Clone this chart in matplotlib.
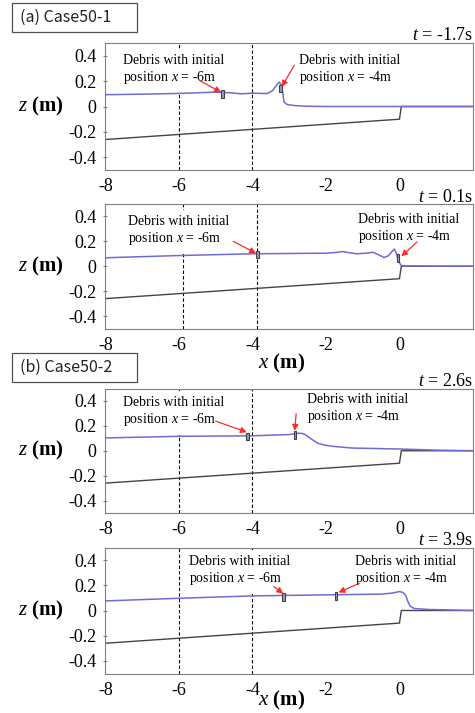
import matplotlib
matplotlib.use("Agg")
from matplotlib import pyplot as plt
from matplotlib.patches import Rectangle

plt.rcParams['font.family'] = ['Liberation Serif', 'DejaVu Serif']
plt.rcParams['mathtext.fontset'] = 'custom'
plt.rcParams['mathtext.rm'] = 'Liberation Serif'
plt.rcParams['mathtext.it'] = 'Liberation Serif:italic'
plt.rcParams['mathtext.bf'] = 'Liberation Serif:bold'

# seabed profile (same in all snapshots)
bed_x = [-8, 0, 0.05, 2]
bed_z = [-0.26, -0.1, 0.0, 0.0]

# free surface, one list per snapshot
times = ['-1.7', '0.1', '2.6', '3.9']
wave_x = [
    [-8, -7, -6, -5.5, -5, -4.6, -4.3, -4.0, -3.6, -3.45, -3.35, -3.27, -3.21, -3.17, -3.14, -3.05, -2.8, -2.5, -2, 0, 2],
    [-8, -6, -4, -2, -1.75, -1.55, -1.35, -1.15, -0.9, -0.72, -0.55, -0.42, -0.3, -0.2, -0.14, -0.08, -0.03, 0.03, 0.08, 1, 2],
    [-8, -6, -4, -3, -2.76, -2.67, -2.58, -2.4, -2.22, -2.03, -1.8, -1.3, -0.5, 0, 1, 2],
    [-8, -6, -4, -2, -0.5, -0.2, 0.0, 0.1, 0.17, 0.23, 0.29, 0.4, 0.8, 2],
]
wave_z = [
    [0.093, 0.097, 0.103, 0.108, 0.113, 0.108, 0.1, 0.105, 0.102, 0.125, 0.165, 0.192, 0.17, 0.1, 0.035, 0.015, 0.006, 0.002, 0.0, 0.0, 0.0],
    [0.068, 0.086, 0.1, 0.105, 0.11, 0.118, 0.108, 0.1, 0.105, 0.112, 0.09, 0.07, 0.085, 0.12, 0.138, 0.1, 0.05, 0.012, 0.003, 0.001, 0.0],
    [0.103, 0.116, 0.12, 0.13, 0.14, 0.14, 0.133, 0.095, 0.06, 0.045, 0.035, 0.022, 0.017, 0.014, 0.005, 0.0],
    [0.076, 0.097, 0.116, 0.124, 0.13, 0.138, 0.15, 0.143, 0.12, 0.07, 0.035, 0.016, 0.008, 0.0],
]

# debris centres (x, z): initial -6m, initial -4m
debris = [
    [(-4.82, 0.098), (-3.23, 0.142)],
    [(-3.86, 0.095), (-0.04, 0.065)],
    [(-4.13, 0.115), (-2.84, 0.126)],
    [(-3.16, 0.108), (-1.73, 0.113)],
]
# arrows: (start, end)
arrows = [
    [((-5.41, 0.2), (-4.85, 0.112)), ((-2.86, 0.325), (-3.2, 0.155))],
    [((-4.52, 0.2), (-3.9, 0.105)), ((0.48, 0.195), (0.05, 0.08))],
    [((-5.0, 0.238), (-4.15, 0.149)), ((-2.81, 0.297), (-2.85, 0.16))],
    [((-3.42, 0.19), (-3.16, 0.135)), ((-1.09, 0.216), (-1.66, 0.143))],
]
# label anchors (left x, baseline z of second line)
label_pos = [
    [(-7.53, 0.2), (-2.73, 0.2)],
    [(-7.37, 0.195), (-1.12, 0.21)],
    [(-7.53, 0.22), (-2.51, 0.243)],
    [(-5.73, 0.224), (-1.22, 0.224)],
]
label_txt = ['-6m', '-4m']
dash_x = [[-6, -4], [-5.88, -3.87], [-6, -4], [-6, -4]]

xticks = [-8, -6, -4, -2, 0]
xticklabels = ['-8', '-6', '-4', '-2', '0']
yticks = [-0.4, -0.2, 0, 0.2, 0.4]
yticklabels = ['-0.4', '-0.2', '0', '0.2', '0.4']

W, H = 475, 713
fig = plt.figure(figsize=(W / 100, H / 100), dpi=100)

# axes boxes in pixels: (top, bottom)
boxes = [(43, 170), (204, 328.5), (388.5, 513), (547.5, 673.5)]
left_px, right_px = 105.3, 473

wave_col = '#6c6cd4'
bed_col = '#454545'

for i, (top, bot) in enumerate(boxes):
    ax = fig.add_axes([left_px / W, (H - bot) / H, (right_px - left_px) / W, (bot - top) / H])
    ax.set_xlim(-8, 2)
    ax.set_ylim(-0.5, 0.5)
    for xd in dash_x[i]:
        ax.axvline(xd, color='black', ls=(0, (3, 2)), lw=0.8, zorder=1)
    ax.plot(bed_x, bed_z, color=bed_col, lw=1.0, zorder=2)
    ax.plot(wave_x[i], wave_z[i], color=wave_col, lw=1.1, zorder=3)
    for (dx, dz) in debris[i]:
        ax.add_patch(Rectangle((dx - 0.035, dz - 0.03), 0.07, 0.06, facecolor='#9a9aa8',
                               edgecolor='#404050', lw=0.8, zorder=4))
    for j in range(2):
        lx, lz = label_pos[i][j]
        ax.text(lx, lz, 'Debris with initial\nposition $x$ = ' + label_txt[j],
                fontsize=10, ha='left', va='baseline', linespacing=1.2, zorder=1.5,
                bbox=dict(boxstyle='square,pad=0.5', facecolor='white', edgecolor='none'))
        (sx, sz), (ex, ez) = arrows[i][j]
        ax.annotate('', xy=(ex, ez), xytext=(sx, sz), zorder=6,
                    arrowprops=dict(arrowstyle='-|>', color='#ff2a2a', lw=0.9,
                                    mutation_scale=9, shrinkA=0, shrinkB=0))
    ax.set_xticks(xticks)
    ax.set_xticklabels(xticklabels)
    ax.set_yticks(yticks)
    ax.set_yticklabels(yticklabels)
    ax.tick_params(axis='x', length=0, pad=6, labelsize=13)
    ax.tick_params(axis='y', direction='inout', length=3, pad=5, labelsize=13, color='#808080')
    for sp in ax.spines.values():
        sp.set_color('#808080')
        sp.set_linewidth(0.8)
    ax.set_ylabel(r'$z$ $\mathbf{(m)}$', rotation=0, fontsize=15, ha='center', va='center')
    ax.yaxis.set_label_coords(-0.175, 0.5)
    ax.text(1.0, 1.02, '$t$ = ' + times[i] + 's', transform=ax.transAxes,
            ha='right', va='baseline', fontsize=13)
    if i == 1:
        ax.set_xlabel(r'$x$ $\mathbf{(m)}$', fontsize=15)
        ax.xaxis.set_label_coords(0.48, -0.19)
    if i == 3:
        ax.set_xlabel(r'$x$ $\mathbf{(m)}$', fontsize=15)
        ax.xaxis.set_label_coords(0.48, -0.125)

# case boxes
for name, ytop in [('(a) Case50-1', 3.3), ('(b) Case50-2', 353.3)]:
    fig.patches.append(Rectangle((11.7 / W, (H - ytop - 29) / H), 125 / W, 29 / H,
                                 transform=fig.transFigure, facecolor='white',
                                 edgecolor='#505050', lw=0.9))
    fig.text(20 / W, (H - ytop - 14.5) / H, name, fontsize=11.5, ha='left', va='center',
             family=['Noto Sans CJK JP', 'DejaVu Sans'], color='#222222')

plt.savefig('out.png', dpi=100)
